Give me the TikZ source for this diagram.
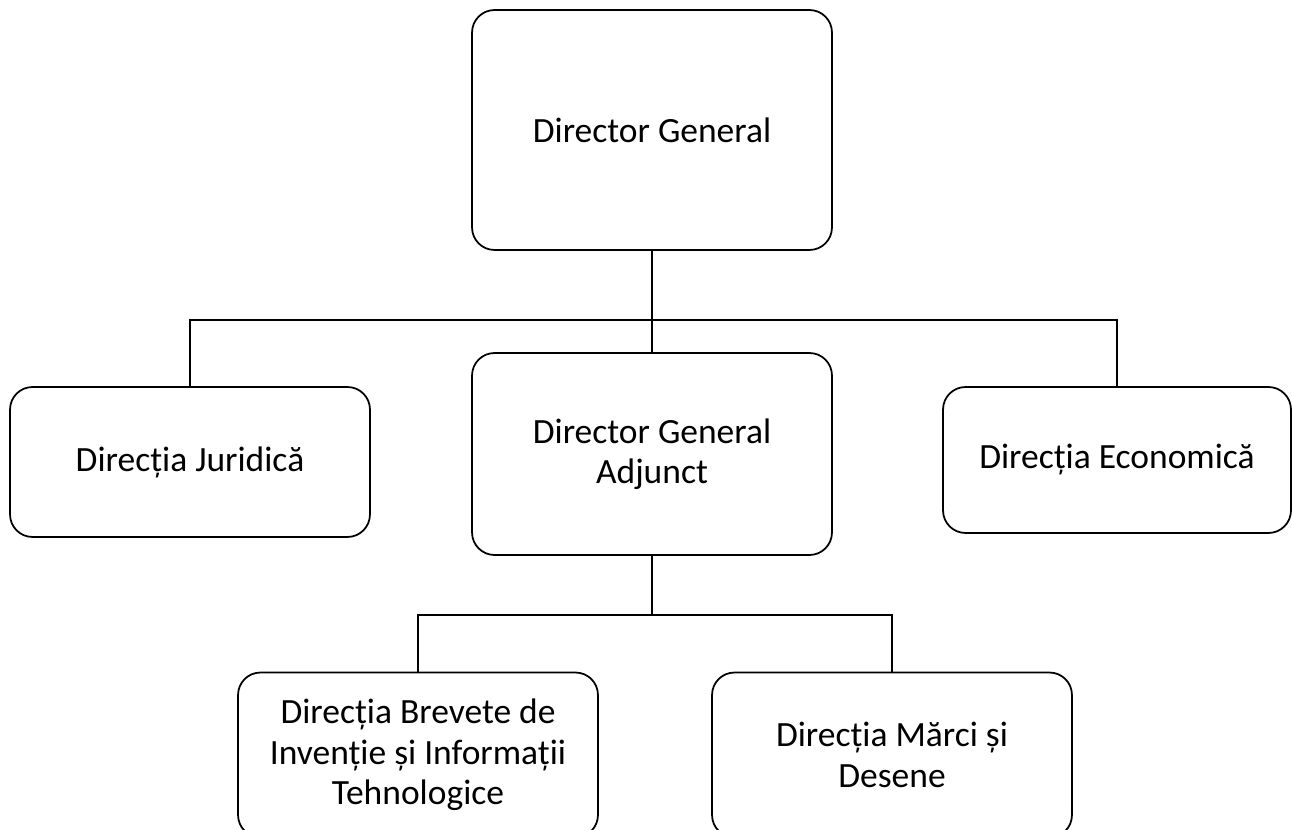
\documentclass[tikz,border=0pt]{standalone}
\usepackage{fontspec}
\setmainfont{Carlito}

\tikzset{
  unit/.style={draw, rounded corners=0.45cm, line width=1pt, align=center,
    font=\fontsize{20.2}{23}\selectfont, minimum width=7.2cm},
  link/.style={line width=1pt}
}

\begin{document}
\begin{tikzpicture}[x=0.02cm, y=-0.02cm]
  \useasboundingbox (0,0) rectangle (1292,830);
  \clip (0,0) rectangle (1292,830);

  \node[unit, minimum height=4.8cm] (dg) at (652,130) {Director General};
  \node[unit, minimum height=3cm] (jur) at (190,462) {Direcția Juridică};
  \node[unit, minimum height=4.04cm] (adj) at (652,454) {Director General\\Adjunct};
  \node[unit, minimum height=2.92cm, minimum width=6.96cm] (eco) at (1117,460) {Direcția Economică};
  \node[unit, minimum height=3.3cm] (brev) at (418,755) {Direcția Brevete de\\Invenție și Informații\\Tehnologice};
  \node[unit, minimum height=3.3cm] (marci) at (892,755) {Direcția Mărci și\\Desene};

  \coordinate (top bus) at (652,320);
  \coordinate (low bus) at (652,615);

  \draw[link] (dg) -- (top bus);
  \draw[link] (top bus) -- (adj);
  \draw[link] (jur.north) |- (top bus) -| (eco.north);
  \draw[link] (adj) -- (low bus);
  \draw[link] (brev.north) |- (low bus) -| (marci.north);
\end{tikzpicture}
\end{document}
